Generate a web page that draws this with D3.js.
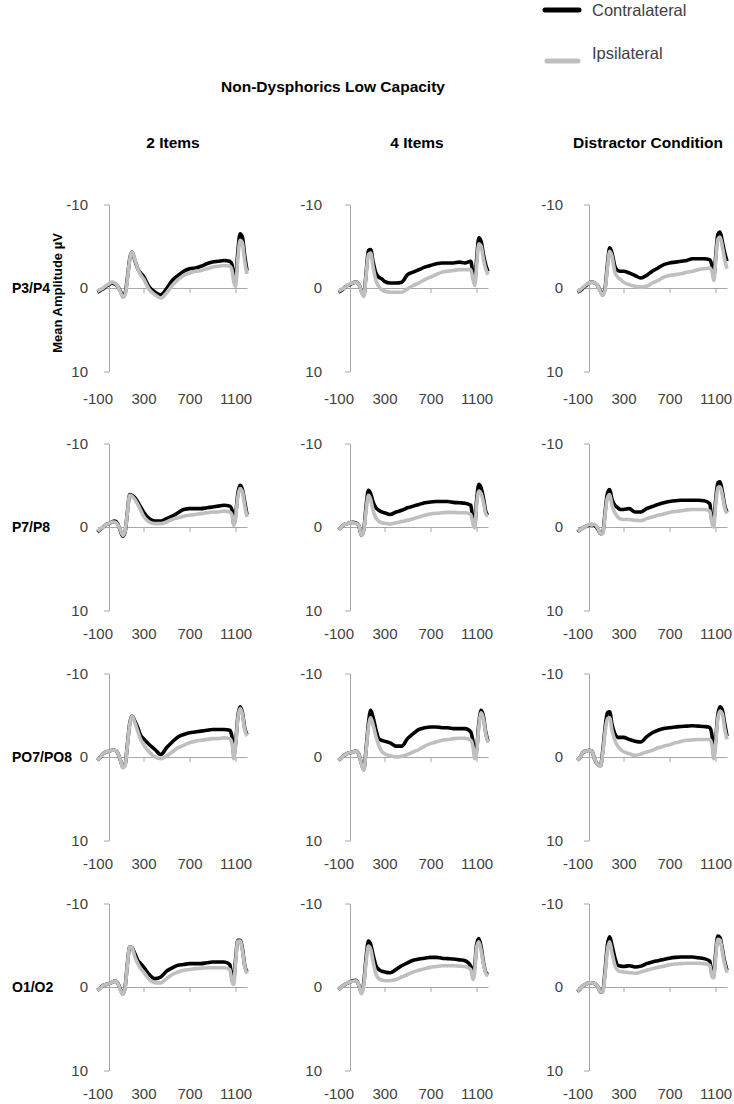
<!DOCTYPE html>
<html>
<head>
<meta charset="utf-8">
<script src="https://cdn.jsdelivr.net/npm/d3@7"></script>
<style>
  html, body { margin: 0; padding: 0; background: #ffffff; }
  svg { display: block; }
</style>
</head>
<body>
<div id="chart"></div>
<script>
// ---------------- DATA ----------------
const chartTitle = "Non-Dysphorics Low Capacity";
const conditions = ["2 Items", "4 Items", "Distractor Condition"];
const electrodes = ["P3/P4", "P7/P8", "PO7/PO8", "O1/O2"];
const seriesNames = ["Contralateral", "Ipsilateral"];
const xTickValues = [-100, 300, 700, 1100];
const yTickValues = [-10, 0, 10];
const yAxisTitle = "Mean Amplitude µV";

// sample times (ms)
const times = [-100,-75,-50,-25,0,25,50,75,100,120,140,160,180,200,225,250,275,300,350,400,450,500,550,600,650,700,750,800,850,900,950,1000,1050,1070,1085,1100,1120,1140,1160,1180,1200];

// amplitudes (µV)
const p3p4_2items_contra = [0.5,0.3,0.1,-0.2,-0.4,-0.6,-0.5,-0.2,0.4,0.9,0.6,-1.2,-3.5,-4.3,-3.3,-2.3,-1.8,-1.4,-0.1,0.5,0.8,0.1,-0.9,-1.5,-2.0,-2.3,-2.4,-2.6,-2.9,-3.1,-3.2,-3.3,-3.2,-2.8,-1.6,-1.0,-4.3,-6.5,-6.1,-3.9,-2.1];
const p3p4_2items_ipsi   = [0.4,0.2,0.0,-0.3,-0.5,-0.7,-0.6,-0.2,0.5,1.1,0.8,-1.0,-3.4,-4.3,-3.4,-2.3,-1.6,-1.1,0.2,0.8,1.2,0.6,-0.3,-1.0,-1.5,-1.8,-2.0,-2.1,-2.3,-2.5,-2.6,-2.7,-2.6,-2.1,-0.7,-0.2,-3.5,-5.7,-5.4,-3.2,-1.7];
const p3p4_4items_contra = [0.5,0.3,0.0,-0.3,-0.4,-0.6,-0.7,-0.5,0.4,0.9,-1.8,-4.5,-4.6,-3.2,-1.8,-1.3,-1.1,-0.8,-0.6,-0.6,-0.7,-1.6,-1.9,-2.2,-2.5,-2.7,-2.9,-3.0,-3.0,-3.0,-3.1,-3.0,-3.2,-1.6,-1.0,-3.2,-6.0,-5.6,-4.0,-2.8,-2.0];
const p3p4_4items_ipsi   = [0.4,0.2,0.0,-0.3,-0.5,-0.6,-0.7,-0.5,0.5,1.0,-1.5,-4.0,-4.2,-2.6,-0.9,-0.2,0.2,0.4,0.5,0.5,0.5,0.1,-0.3,-0.6,-1.0,-1.3,-1.6,-1.9,-2.0,-2.1,-2.2,-2.2,-2.2,-1.0,-0.3,-2.5,-5.3,-5.0,-3.5,-2.3,-1.6];
const p3p4_dist_contra   = [0.5,0.3,0.0,-0.3,-0.6,-0.7,-0.6,-0.3,0.4,0.8,0.0,-2.8,-4.8,-4.2,-2.6,-2.1,-2.0,-2.0,-1.8,-1.5,-1.2,-1.5,-2.0,-2.4,-2.8,-3.0,-3.1,-3.2,-3.3,-3.5,-3.5,-3.5,-3.4,-2.6,-1.3,-3.5,-6.4,-6.7,-5.5,-4.2,-3.2];
const p3p4_dist_ipsi     = [0.4,0.2,-0.1,-0.4,-0.6,-0.7,-0.6,-0.3,0.5,0.9,0.2,-2.4,-4.4,-3.8,-1.9,-1.3,-1.0,-0.7,-0.4,-0.2,-0.1,-0.2,-0.6,-0.9,-1.3,-1.5,-1.6,-1.7,-1.9,-2.0,-2.2,-2.3,-2.4,-1.9,-0.9,-3.0,-5.8,-6.1,-4.9,-3.4,-2.3];

const p7p8_2items_contra = [0.6,0.3,0.0,-0.3,-0.4,-0.6,-0.7,-0.4,0.5,1.1,0.6,-1.8,-3.9,-3.8,-3.5,-3.0,-2.4,-1.8,-1.0,-0.7,-0.7,-1.0,-1.3,-1.7,-2.1,-2.2,-2.2,-2.2,-2.3,-2.4,-2.5,-2.6,-2.5,-2.0,-0.4,-1.3,-4.0,-5.0,-4.5,-3.0,-1.5];
const p7p8_2items_ipsi   = [0.5,0.2,0.0,-0.3,-0.4,-0.6,-0.6,-0.3,0.4,1.0,0.5,-1.7,-3.8,-3.7,-3.3,-2.7,-2.0,-1.3,-0.6,-0.4,-0.4,-0.6,-0.9,-1.1,-1.3,-1.4,-1.5,-1.6,-1.7,-1.8,-1.8,-1.9,-1.8,-1.4,-0.2,-1.0,-3.6,-4.6,-4.2,-2.6,-1.2];
const p7p8_4items_contra = [0.3,0.0,-0.3,-0.4,-0.5,-0.55,-0.5,-0.2,1.0,0.3,-2.5,-4.4,-4.0,-3.0,-2.3,-2.0,-1.8,-1.7,-1.5,-1.8,-2.0,-2.3,-2.5,-2.7,-2.9,-3.0,-3.05,-3.05,-3.05,-2.95,-2.9,-2.85,-2.6,-0.8,-0.2,-3.0,-5.1,-4.7,-3.5,-1.9,-1.4];
const p7p8_4items_ipsi   = [0.3,0.0,-0.3,-0.4,-0.5,-0.5,-0.45,-0.2,1.0,0.4,-2.0,-3.8,-3.3,-2.0,-1.1,-0.7,-0.5,-0.45,-0.35,-0.5,-0.65,-0.8,-1.0,-1.2,-1.4,-1.55,-1.65,-1.7,-1.75,-1.75,-1.7,-1.7,-1.5,-0.4,0.1,-2.5,-4.3,-4.0,-3.0,-1.6,-1.3];
const p7p8_dist_contra   = [0.55,0.3,0.1,-0.1,-0.25,-0.3,-0.2,0.2,0.8,0.7,-1.8,-4.0,-4.5,-3.3,-2.6,-2.3,-2.1,-2.1,-2.2,-1.8,-1.8,-2.2,-2.45,-2.7,-2.9,-3.05,-3.15,-3.2,-3.2,-3.2,-3.2,-3.15,-2.8,-0.8,-0.8,-3.0,-5.3,-5.4,-4.2,-2.6,-1.8];
const p7p8_dist_ipsi     = [0.5,0.3,0.1,-0.1,-0.3,-0.35,-0.3,0.1,0.8,0.8,-1.5,-3.5,-3.9,-2.6,-1.7,-1.2,-0.95,-0.9,-0.9,-0.8,-0.75,-1.0,-1.2,-1.4,-1.55,-1.75,-1.85,-1.95,-2.05,-2.1,-2.1,-2.1,-1.9,-0.4,0.0,-2.4,-4.7,-4.8,-3.8,-2.3,-1.6];

const po7po8_2items_contra = [0.4,0.0,-0.4,-0.6,-0.7,-0.8,-0.8,-0.5,0.4,1.2,0.9,-1.5,-4.0,-4.9,-4.3,-3.5,-2.6,-2.2,-1.5,-0.9,-0.3,-1.1,-1.8,-2.4,-2.7,-2.9,-3.0,-3.1,-3.2,-3.3,-3.3,-3.3,-3.2,-2.4,-0.3,-1.5,-4.8,-6.0,-5.3,-3.5,-2.7];
const po7po8_2items_ipsi   = [0.4,0.0,-0.4,-0.6,-0.7,-0.8,-0.8,-0.5,0.4,1.3,1.0,-1.4,-3.9,-4.9,-4.1,-3.1,-2.1,-1.5,-0.6,0.0,0.2,-0.1,-0.6,-1.1,-1.4,-1.7,-1.9,-2.0,-2.1,-2.2,-2.2,-2.3,-2.2,-1.6,0.2,-1.2,-4.6,-5.8,-5.1,-3.3,-2.5];
const po7po8_4items_contra = [0.4,0.1,-0.2,-0.4,-0.5,-0.6,-0.7,-0.4,0.8,1.5,-1.0,-4.0,-5.6,-4.8,-3.3,-2.2,-2.0,-1.9,-1.7,-1.3,-1.3,-2.2,-2.8,-3.3,-3.5,-3.6,-3.6,-3.5,-3.5,-3.4,-3.4,-3.4,-3.0,-1.8,-0.4,-0.8,-4.0,-5.6,-4.9,-3.0,-1.9];
const po7po8_4items_ipsi   = [0.4,0.1,-0.2,-0.4,-0.5,-0.6,-0.7,-0.4,0.9,1.6,-0.8,-3.5,-4.7,-3.9,-2.5,-1.4,-0.7,-0.4,-0.15,0.0,-0.1,-0.3,-0.6,-0.9,-1.3,-1.6,-1.8,-2.0,-2.1,-2.2,-2.25,-2.25,-2.0,-1.2,0.2,-0.4,-3.6,-5.3,-4.6,-2.8,-1.7];
const po7po8_dist_contra   = [0.4,0.0,-0.6,-0.7,-0.8,-0.7,0.3,0.9,1.05,-0.8,-3.5,-5.3,-5.4,-3.9,-2.8,-2.35,-2.35,-2.35,-2.1,-1.9,-1.8,-2.4,-2.9,-3.2,-3.4,-3.5,-3.6,-3.65,-3.7,-3.75,-3.7,-3.65,-3.55,-2.5,-0.3,-1.8,-5.0,-6.0,-5.6,-4.0,-2.5];
const po7po8_dist_ipsi     = [0.4,0.0,-0.6,-0.7,-0.8,-0.7,0.3,0.9,1.1,-0.5,-3.0,-4.6,-4.7,-3.2,-2.0,-1.3,-0.9,-0.65,-0.4,-0.2,-0.35,-0.6,-0.8,-1.1,-1.3,-1.45,-1.7,-1.85,-2.0,-2.05,-2.1,-2.1,-2.1,-1.4,0.2,-1.3,-4.6,-5.5,-5.1,-3.4,-2.1];

const o1o2_2items_contra = [0.4,0.1,-0.2,-0.3,-0.4,-0.55,-0.7,-0.5,0.3,0.8,0.0,-2.8,-4.8,-4.7,-4.0,-3.2,-2.8,-2.4,-1.5,-1.0,-1.2,-1.9,-2.3,-2.6,-2.7,-2.8,-2.8,-2.8,-2.9,-3.0,-3.0,-3.0,-2.7,-1.2,-1.0,-3.2,-5.6,-5.6,-4.6,-2.6,-1.8];
const o1o2_2items_ipsi   = [0.4,0.1,-0.2,-0.3,-0.4,-0.55,-0.7,-0.5,0.4,0.9,0.1,-2.7,-4.8,-4.7,-3.6,-2.8,-2.2,-1.8,-0.9,-0.5,-0.5,-1.0,-1.5,-1.8,-2.0,-2.1,-2.2,-2.25,-2.3,-2.3,-2.3,-2.3,-2.1,-0.6,-0.3,-2.8,-5.5,-5.5,-4.4,-2.5,-1.6];
const o1o2_4items_contra = [0.3,0.0,-0.25,-0.45,-0.6,-0.75,-0.8,-0.3,0.7,-0.5,-3.5,-5.5,-5.1,-3.9,-2.6,-2.1,-1.9,-1.8,-1.7,-2.1,-2.55,-2.9,-3.2,-3.35,-3.45,-3.55,-3.55,-3.45,-3.4,-3.35,-3.25,-3.15,-2.5,-1.3,-2.5,-5.0,-5.8,-4.8,-3.0,-1.8,-1.5];
const o1o2_4items_ipsi   = [0.3,0.0,-0.25,-0.45,-0.6,-0.7,-0.75,-0.3,0.8,-0.2,-3.0,-4.9,-4.5,-3.1,-1.6,-1.0,-0.85,-0.75,-0.75,-0.9,-1.2,-1.5,-1.8,-2.0,-2.2,-2.35,-2.45,-2.55,-2.55,-2.55,-2.5,-2.45,-2.1,-0.9,-2.0,-4.6,-5.4,-4.4,-2.8,-1.7,-1.3];
const o1o2_dist_contra   = [0.55,0.2,-0.15,-0.35,-0.5,-0.5,-0.4,-0.1,0.6,0.5,-2.0,-5.0,-6.0,-5.0,-3.5,-2.6,-2.5,-2.45,-2.55,-2.4,-2.5,-2.8,-3.0,-3.15,-3.3,-3.45,-3.55,-3.6,-3.6,-3.6,-3.5,-3.4,-3.1,-1.6,-1.6,-3.8,-6.1,-5.9,-4.5,-3.0,-2.0];
const o1o2_dist_ipsi     = [0.5,0.2,-0.15,-0.35,-0.5,-0.5,-0.4,-0.1,0.6,0.6,-1.6,-4.4,-5.4,-4.1,-2.6,-2.0,-1.85,-1.8,-1.7,-1.65,-1.8,-2.0,-2.2,-2.35,-2.5,-2.65,-2.75,-2.8,-2.85,-2.85,-2.85,-2.8,-2.6,-1.2,-1.1,-3.3,-5.7,-5.6,-4.2,-2.7,-1.7];

// grid: rows = electrodes, cols = conditions -> [contra, ipsi]
const grid = [
  [[p3p4_2items_contra, p3p4_2items_ipsi], [p3p4_4items_contra, p3p4_4items_ipsi], [p3p4_dist_contra, p3p4_dist_ipsi]],
  [[p7p8_2items_contra, p7p8_2items_ipsi], [p7p8_4items_contra, p7p8_4items_ipsi], [p7p8_dist_contra, p7p8_dist_ipsi]],
  [[po7po8_2items_contra, po7po8_2items_ipsi], [po7po8_4items_contra, po7po8_4items_ipsi], [po7po8_dist_contra, po7po8_dist_ipsi]],
  [[o1o2_2items_contra, o1o2_2items_ipsi], [o1o2_4items_contra, o1o2_4items_ipsi], [o1o2_dist_contra, o1o2_dist_ipsi]]
];

// ---------------- LAYOUT ----------------
const W = 734, H = 1104;
const colAxisX = [109, 350, 589];
const colLabelGap = [16, 23, 21];
const rowZeroY = [288, 527, 757, 987];
const halfSpan = 83.5;
const colors = ["#000000", "#bfbfbf"];
const axisColor = "#a6a6a6";
const textColor = "#404040";
const FONT = "'Liberation Sans', Arial, sans-serif";

const svg = d3.select("#chart").append("svg")
  .attr("width", W).attr("height", H)
  .style("font-family", FONT);

// legend
const legend = svg.append("g");
const legendRows = [{y: 10, ty: 10, x1: 545, x2: 579}, {y: 61, ty: 53, x1: 547, x2: 578}];
seriesNames.forEach((name, i) => {
  const r = legendRows[i];
  legend.append("line")
    .attr("x1", r.x1).attr("x2", r.x2).attr("y1", r.y).attr("y2", r.y)
    .attr("stroke", colors[i]).attr("stroke-width", 5).attr("stroke-linecap", "round");
  legend.append("text")
    .attr("x", 592).attr("y", r.ty).attr("dy", "0.35em")
    .attr("font-size", 16.5).attr("fill", textColor)
    .text(name);
});

// main title
svg.append("text")
  .attr("x", 333).attr("y", 87).attr("dy", "0.35em")
  .attr("text-anchor", "middle").attr("font-weight", "bold")
  .attr("font-size", 15.5).attr("fill", "#000")
  .text(chartTitle);

// column titles
const colTitleX = [173, 417, 648];
conditions.forEach((c, j) => {
  svg.append("text")
    .attr("x", colTitleX[j]).attr("y", 143).attr("dy", "0.35em")
    .attr("text-anchor", "middle").attr("font-weight", "bold")
    .attr("font-size", 15.5).attr("fill", "#000")
    .text(c);
});

// row labels
electrodes.forEach((e, i) => {
  svg.append("text")
    .attr("x", 12).attr("y", rowZeroY[i]).attr("dy", "0.35em")
    .attr("font-weight", "bold").attr("font-size", 14).attr("fill", "#000")
    .text(e);
});

// y axis title (first panel only)
svg.append("text")
  .attr("transform", `translate(57,${rowZeroY[0] + 5}) rotate(-90)`)
  .attr("text-anchor", "middle").attr("dy", "0.35em")
  .attr("font-weight", "bold").attr("font-size", 13).attr("fill", "#000")
  .text(yAxisTitle);

// panels
electrodes.forEach((e, i) => {
  conditions.forEach((c, j) => {
    const x0 = colAxisX[j];
    const z = rowZeroY[i];
    const x = d3.scaleLinear().domain([-100, 1200]).range([x0 - 0.115 * 100, x0 + 0.115 * 1200]);
    const y = d3.scaleLinear().domain([-10, 10]).range([z - halfSpan, z + halfSpan]);
    const g = svg.append("g");

    // x axis at 0
    const xAxis = d3.axisBottom(x).tickValues(xTickValues).tickSize(5).tickSizeOuter(0)
      .tickPadding(i === 0 ? 100 : 96).tickFormat(d => String(d));
    const gx = g.append("g").attr("transform", `translate(0,${y(0)})`).call(xAxis);
    gx.select(".domain").attr("stroke", axisColor);
    gx.selectAll(".tick line").attr("stroke", axisColor)
      .attr("display", d => d === -100 ? "none" : null);
    gx.selectAll(".tick text").attr("fill", textColor).attr("font-size", 15).attr("font-family", FONT);

    // y axis at time 0
    const yAxis = d3.axisLeft(y).tickValues(yTickValues).tickSize(5).tickSizeOuter(0)
      .tickPadding(colLabelGap[j]).tickFormat(d => String(d));
    const gy = g.append("g").attr("transform", `translate(${x(0)},0)`).call(yAxis);
    gy.select(".domain").attr("stroke", axisColor);
    gy.selectAll(".tick line").attr("stroke", axisColor);
    gy.selectAll(".tick text").attr("fill", textColor).attr("font-size", 15).attr("font-family", FONT);

    // waveforms: contralateral first, ipsilateral on top
    const line = d3.line()
      .x((d, k) => x(times[k]))
      .y(d => y(d))
      .curve(d3.curveMonotoneX);
    grid[i][j].forEach((vals, s) => {
      g.append("path")
        .datum(vals)
        .attr("fill", "none")
        .attr("stroke", colors[s])
        .attr("stroke-width", 3.6)
        .attr("stroke-linejoin", "round")
        .attr("d", line);
    });
  });
});
</script>
</body>
</html>
